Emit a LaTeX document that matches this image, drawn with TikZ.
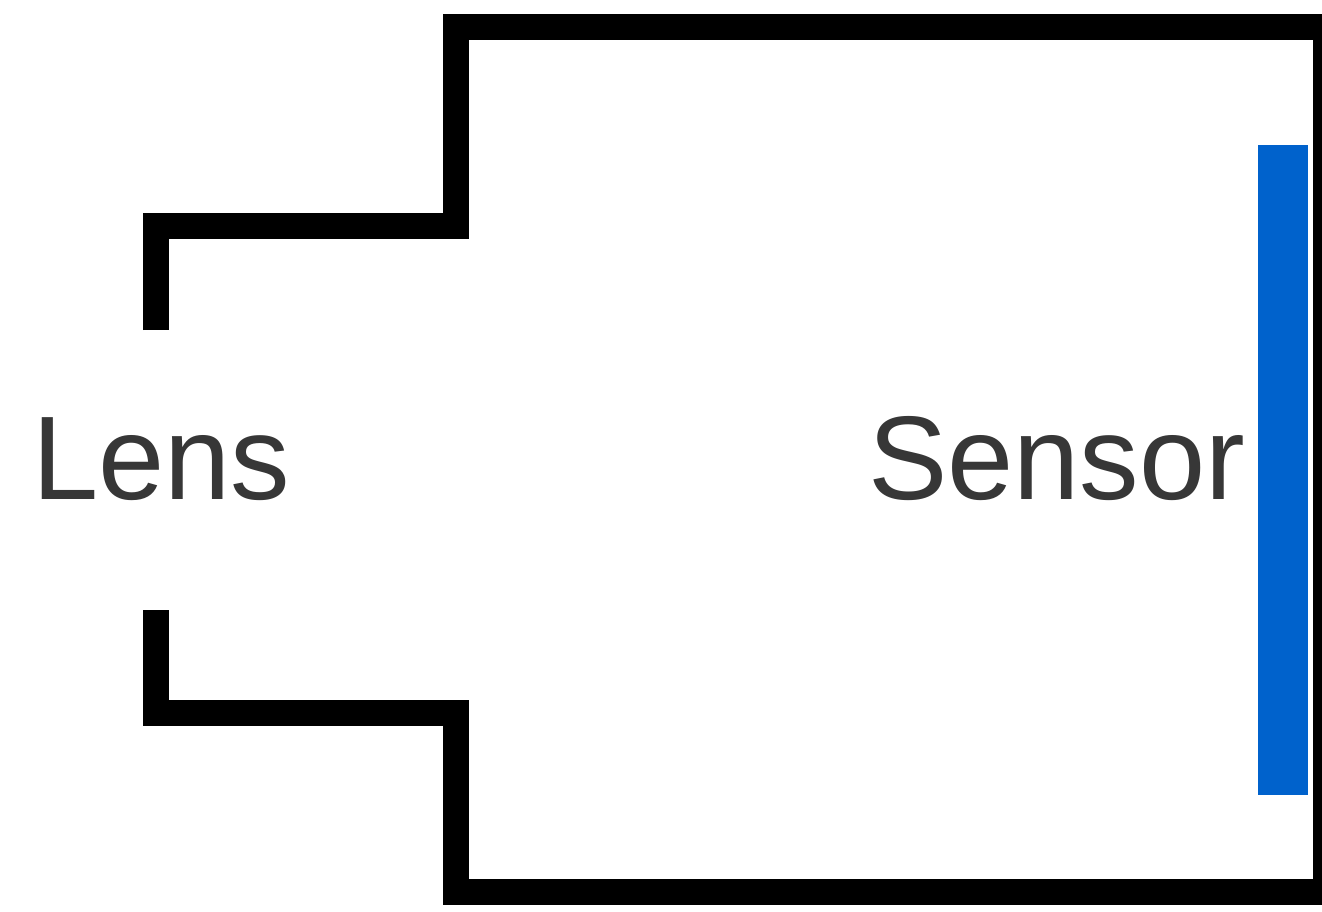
\documentclass[tikz,border=0pt]{standalone}
\usepackage{fontspec}
\setmainfont{Liberation Sans}
\definecolor{sensorblue}{RGB}{0,98,204}
\definecolor{labelgray}{RGB}{55,55,55}
\begin{document}
\begin{tikzpicture}[x=1pt,y=-1pt,
  outline/.style={line width=26pt, line join=miter, line cap=butt, draw=black},
  label/.style={inner sep=0pt, outer sep=0pt, text=labelgray, font=\fontsize{119}{124}\selectfont},
  sensorbar/.style={fill=sensorblue, draw=none}]
\useasboundingbox (0,0) rectangle (1322,911);
\fill[white] (0,0) rectangle (1322,911);
% sensor bar
\fill[sensorbar] (1258,145) rectangle (1308,795);
\coordinate (bar) at (1283,470);
% camera body outline
\draw[outline] (156,330) -- (156,226) -- (456,226) -- (456,27) -- (1326,27) -- (1326,892) -- (456,892) -- (456,713) -- (156,713) -- (156,610);
% labels
\node[label, anchor=base west] (lens) at (32,499) {Lens};
\node[label, anchor=base west] (sensor) at (868,499) {Sensor};
\end{tikzpicture}
\end{document}
